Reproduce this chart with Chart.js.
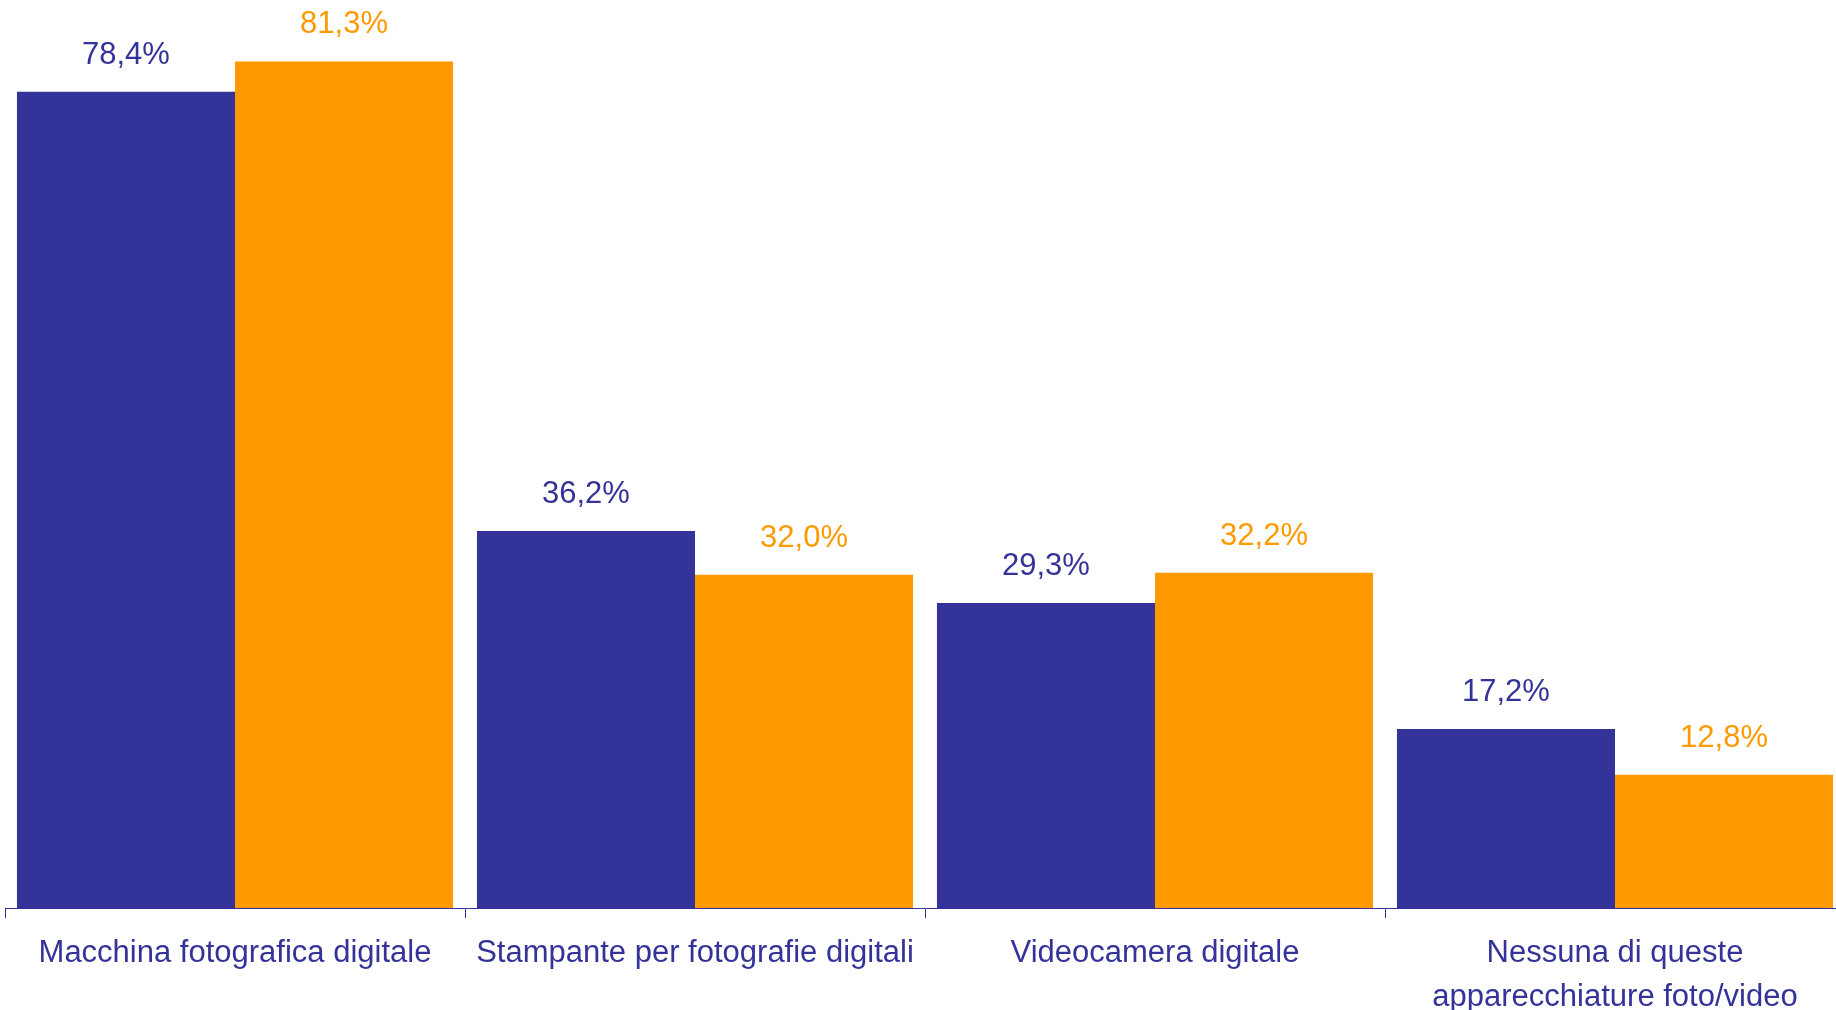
<!DOCTYPE html>
<html>
<head>
<meta charset="utf-8">
<title>Apparecchiature foto/video</title>
<script src="https://cdn.jsdelivr.net/npm/chart.js@4"></script>
<style>
  html, body { margin: 0; padding: 0; background: #fff; overflow: hidden; }
  #wrap { width: 1846px; height: 1010px; }
</style>
</head>
<body>
<div id="wrap"><canvas id="chart" width="1846" height="1010"></canvas></div>
<script>
/* ── Dati ── */
const categories = [
  'Macchina fotografica digitale',
  'Stampante per fotografie digitali',
  'Videocamera digitale',
  ['Nessuna di queste', 'apparecchiature foto/video']
];
const serieBlu = [78.4, 36.2, 29.3, 17.2];
const serieArancio = [81.3, 32.0, 32.2, 12.8];

const COLORS = {
  blu: '#333399',
  arancio: '#FF9900',
};

const FONT = "'Liberation Sans', Arial, sans-serif";

/* ── Etichette sopra le barre ── */
const valueLabels = {
  id: 'valueLabels',
  afterDatasetsDraw(chart) {
    const ctx = chart.ctx;
    ctx.save();
    ctx.font = '31px ' + FONT;
    ctx.textAlign = 'center';
    ctx.textBaseline = 'alphabetic';
    chart.data.datasets.forEach((ds, i) => {
      const meta = chart.getDatasetMeta(i);
      ctx.fillStyle = ds.labelColor;
      meta.data.forEach((bar, j) => {
        const txt = ds.data[j].toFixed(1).replace('.', ',') + '%';
        ctx.fillText(txt, bar.x, bar.y - 28);
      });
    });
    ctx.restore();
  }
};

new Chart(document.getElementById('chart'), {
  type: 'bar',
  data: {
    labels: categories,
    datasets: [
      {
        data: serieBlu,
        backgroundColor: COLORS.blu,
        labelColor: COLORS.blu,
        categoryPercentage: 0.948,
        barPercentage: 1.0,
      },
      {
        data: serieArancio,
        backgroundColor: COLORS.arancio,
        labelColor: COLORS.arancio,
        categoryPercentage: 0.948,
        barPercentage: 1.0,
      }
    ]
  },
  options: {
    responsive: false,
    animation: false,
    layout: { padding: { left: 5, right: 1, top: 0, bottom: 0 } },
    plugins: {
      legend: { display: false },
      tooltip: { enabled: false }
    },
    scales: {
      x: {
        afterFit: (scale) => { scale.height = 102; },
        grid: {
          drawOnChartArea: false,
          drawTicks: true,
          tickLength: 10,
          color: COLORS.blu,
          lineWidth: 1,
          offset: true,
        },
        border: { display: true, color: COLORS.blu, width: 1 },
        ticks: {
          color: COLORS.blu,
          padding: 14,
          maxRotation: 0,
          autoSkip: false,
          font: { family: FONT, size: 31, lineHeight: 1.4 }
        }
      },
      y: {
        display: false,
        min: 0,
        max: 87.2,
      }
    }
  },
  plugins: [valueLabels]
});
</script>
</body>
</html>
